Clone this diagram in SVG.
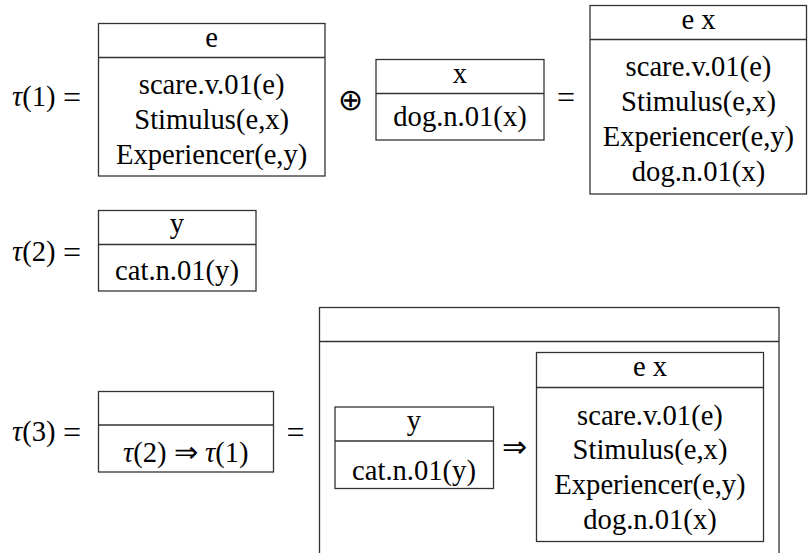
<svg xmlns="http://www.w3.org/2000/svg" width="808" height="553" viewBox="0 0 808 553">
<style>
  .bx { fill: #ffffff; stroke: #333333; stroke-width: 1.3; }
  .ln { stroke: #333333; stroke-width: 1.3; fill: none; }
  text { font-family: 'Liberation Serif', Tinos, 'Noto Serif', 'DejaVu Serif', FreeSerif, 'Times New Roman', serif; font-size: 28.6px; fill: #000000; }
  .t { text-anchor: middle; }
  .it { font-style: italic; }
  .eq { font-size: 32px; text-anchor: middle; }
  .op { font-family: 'DejaVu Sans ExtraLight', 'DejaVu Sans', sans-serif; font-weight: 200; font-size: 30px; text-anchor: middle; }
</style>
<rect width="808" height="553" fill="#ffffff"/>

<!-- labels -->
<g id="labels">
  <text x="12" y="106"><tspan class="it">τ</tspan>(1)</text>
  <text class="eq" x="72" y="108">=</text>
  <text x="12" y="261"><tspan class="it">τ</tspan>(2)</text>
  <text class="eq" x="72" y="263">=</text>
  <text x="12" y="441"><tspan class="it">τ</tspan>(3)</text>
  <text class="eq" x="72" y="443">=</text>
</g>

<!-- box tau1 -->
<g id="box-tau1">
  <rect class="bx" x="98.5" y="23.5" width="226.5" height="152.5"/>
  <line class="ln" x1="98.5" y1="57.5" x2="325" y2="57.5"/>
  <text class="t" x="211.7" y="47">e</text>
  <text class="t" x="211.7" y="94">scare.v.01(e)</text>
  <text class="t" x="211.7" y="129">Stimulus(e,x)</text>
  <text class="t" x="211.7" y="164">Experiencer(e,y)</text>
</g>

<!-- box dog -->
<g id="box-dog">
  <rect class="bx" x="376" y="59.5" width="168" height="80.5"/>
  <line class="ln" x1="376" y1="93.5" x2="544" y2="93.5"/>
  <text class="t" x="460" y="83">x</text>
  <text class="t" x="460" y="126">dog.n.01(x)</text>
</g>

<!-- box merged -->
<g id="box-merged">
  <rect class="bx" x="590" y="5.5" width="216.5" height="188.5"/>
  <line class="ln" x1="590" y1="39.5" x2="806.5" y2="39.5"/>
  <text class="t" x="698.5" y="29">e x</text>
  <text class="t" x="698.5" y="76">scare.v.01(e)</text>
  <text class="t" x="698.5" y="111">Stimulus(e,x)</text>
  <text class="t" x="698.5" y="146">Experiencer(e,y)</text>
  <text class="t" x="698.5" y="181">dog.n.01(x)</text>
</g>

<!-- box tau2 -->
<g id="box-tau2">
  <rect class="bx" x="98.5" y="210.5" width="157.5" height="80.5"/>
  <line class="ln" x1="98.5" y1="244.5" x2="256" y2="244.5"/>
  <text class="t" x="177" y="233">y</text>
  <text class="t" x="177" y="280">cat.n.01(y)</text>
</g>

<!-- box tau3 -->
<g id="box-tau3">
  <rect class="bx" x="98.5" y="391.5" width="175" height="80.5"/>
  <line class="ln" x1="98.5" y1="425" x2="273.5" y2="425"/>
  <text class="t" x="185.8" y="462"><tspan class="it">τ</tspan>(2) <tspan style="font-family: 'DejaVu Sans ExtraLight', 'DejaVu Sans', sans-serif; font-weight: 200; font-size: 29px">⇒</tspan> <tspan class="it">τ</tspan>(1)</text>
</g>

<!-- big outer box -->
<g id="box-outer">
  <rect class="bx" x="319.5" y="307.5" width="459.5" height="260"/>
  <line class="ln" x1="319.5" y1="341.5" x2="779" y2="341.5"/>
</g>

<!-- inner cat box -->
<g id="box-inner-cat">
  <rect class="bx" x="335" y="407" width="158.5" height="81.5"/>
  <line class="ln" x1="335" y1="441" x2="493.5" y2="441"/>
  <text class="t" x="414" y="430">y</text>
  <text class="t" x="414" y="480">cat.n.01(y)</text>
</g>

<!-- inner e x box -->
<g id="box-inner-ex">
  <rect class="bx" x="536.5" y="352.5" width="227" height="189"/>
  <line class="ln" x1="536.5" y1="387.5" x2="763.5" y2="387.5"/>
  <text class="t" x="650" y="376">e x</text>
  <text class="t" x="650" y="425">scare.v.01(e)</text>
  <text class="t" x="650" y="459">Stimulus(e,x)</text>
  <text class="t" x="650" y="494">Experiencer(e,y)</text>
  <text class="t" x="650" y="529">dog.n.01(x)</text>
</g>

<!-- operators between boxes -->
<g id="connectors">
  <text class="op" x="350.5" y="110">⊕</text>
  <text class="eq" x="566" y="108">=</text>
  <text class="eq" x="295.5" y="443">=</text>
  <text class="op" x="514" y="457">⇒</text>
</g>
</svg>
